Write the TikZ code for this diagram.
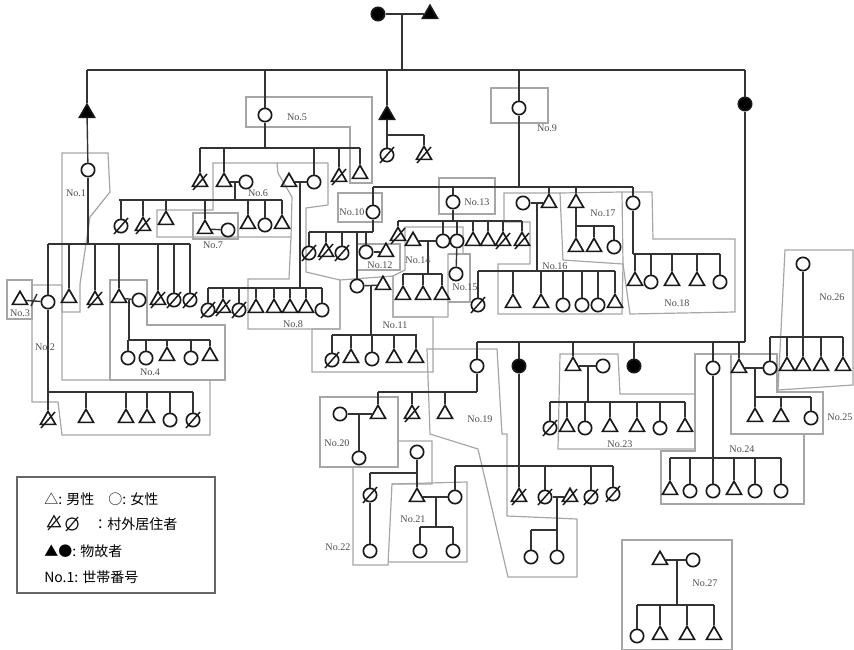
\documentclass[tikz,border=0pt]{standalone}
\usepackage{fontspec}
\setmainfont{Liberation Serif}
\newfontfamily\jp{Noto Sans CJK JP}
\usetikzlibrary{shapes.geometric}
\newcommand\kids[4]{%
  \draw[ln] (#2,#1) -- (#3,#1);
  \foreach \nn in {#4} {\draw[ln] (\nn |- 0,#1) -- (\nn);}}
\begin{document}
\begin{tikzpicture}[x=0.75pt,y=-0.75pt,
  ln/.style={draw=black!80,line width=1.05pt},
  bx/.style={draw=black!35,line width=0.9pt},
  sym/.style={draw=black!90,line width=1.25pt,inner sep=0pt},
  sM/.style={sym,regular polygon,regular polygon sides=3,minimum size=13pt},
  sF/.style={sym,circle,minimum size=10pt},
  sDead/.style={fill=black},
  sOut/.style={append after command={([shift={(-7,8)}]\tikzlastnode.center) edge[draw=black!90,line width=1.1pt] ([shift={(7,-8)}]\tikzlastnode.center)}},
  lab/.style={font=\fontsize{7.6}{8}\selectfont,text=black!70,inner sep=0pt},
  leg/.style={font=\jp\fontsize{10.5}{12}\selectfont,inner sep=0pt,anchor=west},
]
\useasboundingbox (0,0) rectangle (854,650);
% ---------------- household boxes ----------------
\draw[bx] (62,153) -- (108,153) -- (110,192) -- (90,217) -- (80,284) -- (80,312) -- (62,312) -- cycle;
\draw[bx] (32,285) -- (62,285) -- (62,380) -- (210,380) -- (210,435) -- (62,435) -- (58,402) -- (32,402) -- cycle;
\draw[bx] (7,280) rectangle (32,319);
\draw[bx] (110,280) -- (147,280) -- (147,325) -- (225,325) -- (225,380) -- (110,380) -- cycle;
\draw[bx] (246,97) -- (372,97) -- (372,183) -- (350,183) -- (350,127) -- (246,127) -- cycle;
\draw[bx] (213,163) -- (277,163) -- (278,173) -- (292,197) -- (291,237) -- (157,237) -- (157,210) -- (213,210) -- cycle;
\draw[bx] (193,213) rectangle (238,239);
\draw[bx] (277,163) -- (328,163) -- (328,205) -- (306,208) -- (306,272) -- (340,280) -- (340,329) -- (248,329) -- (248,279) -- (289,279) -- (291,237);
\draw[bx] (491,88) rectangle (548,123);
\draw[bx] (338,193) rectangle (382,222);
\draw[bx] (312,329) -- (340,329) -- (340,280) -- (393,276) -- (393,317) -- (433,317) -- (433,372) -- (312,372) -- cycle;
\draw[bx] (357,244) rectangle (400,270);
\draw[bx] (439,178) rectangle (495,214);
\draw[bx] (405,227) -- (463,227) -- (463,254) -- (448,254) -- (448,317) -- (393,317) -- (393,276) -- (405,270) -- cycle;
\draw[bx] (448,254) -- (470,254) -- (470,302) -- (448,302);
\draw[bx] (504,193) -- (560,193) -- (563,260) -- (623,264) -- (622,314) -- (498,314) -- (498,264) -- (530,264) -- (530,222) -- (504,222) -- cycle;
\draw[bx] (560,193) -- (622,192) -- (623,264);
\draw[bx] (622,192) -- (652,192) -- (653,239) -- (735,239) -- (735,312) -- (630,314) -- (623,264);
\draw[bx] (427,349) -- (497,349) -- (502,434) -- (507,434) -- (507,516) -- (577,519) -- (577,577) -- (508,577) -- (478,449) -- (430,434) -- cycle;
\draw[bx] (320,397) rectangle (398,467);
\draw[bx] (392,484) -- (467,482) -- (467,562) -- (388,562);
\draw[bx] (353,467) -- (398,467) -- (398,441) -- (432,441) -- (432,484) -- (392,484) -- (388,565) -- (353,565) -- cycle;
\draw[bx] (560,354) -- (618,354) -- (620,394) -- (695,394) -- (695,449) -- (558,449) -- cycle;
\draw[bx] (695,354) -- (731,354) -- (731,434) -- (804,434) -- (804,504) -- (661,504) -- (661,451) -- (695,451) -- cycle;
\draw[bx] (731,354) -- (777,354) -- (777,392) -- (823,392) -- (823,434) -- (731,434) -- cycle;
\draw[bx] (785,250) -- (853,250) -- (853,385) -- (778,390) -- cycle;
\draw[bx] (622,540) rectangle (732,650);
% ---------------- top ----------------
\node[sF,sDead] (t1) at (378,14) {};
\node[sM,sDead] (t2) at (430,14) {};
\draw[ln] (t1) -- (t2);
\draw[ln] (402,14) -- (402,70);
\draw[ln] (87,70) -- (745,70);
\node[sM,sDead] (a1) at (87,113) {};
\node[sF] (a2) at (88,170) {};
\node[sF] (b1) at (265,115) {};
\node[sM,sDead] (c1) at (387,115) {};
\node[sF,sOut] (c2) at (387,155) {};
\node[sM,sOut] (c3) at (424,155) {};
\node[sF] (d1) at (519,108) {};
\node[sF,sDead] (e1) at (745,104) {};
\foreach \nn in {a1,b1,c1,d1,e1} {\draw[ln] (\nn |- 0,70) -- (\nn);}
\draw[ln] (a1) -- (a2);
\draw[ln] (c1) -- (387,135);
\kids{135}{387}{424}{c2,c3}
% ---------------- No.1 - No.4 ----------------
\node[sF] (f1) at (48,302) {};
\node[sM] (f2) at (69,298) {};
\node[sM,sOut] (f3) at (95,300) {};
\node[sM] (f4) at (119,298) {};
\node[sF] (f5) at (139,300) {};
\node[sM,sOut] (f6) at (158,300) {};
\node[sF,sOut] (f7) at (174,300) {};
\node[sF,sOut] (f8) at (190,300) {};
\node[sM] (g0) at (20,300) {};
\draw[ln] (a2) -- (88,244);
\kids{244}{48}{190}{f1,f2,f3,f4,f6,f7,f8}
\draw[ln] (g0) -- (f1);
\draw[ln] (31,306) -- (37,294);
\draw[ln] (f4) -- (f5);
\node[sF] (h1) at (128,358) {};
\node[sF] (h2) at (146,358) {};
\node[sM] (h3) at (167,356) {};
\node[sF] (h4) at (191,358) {};
\node[sM] (h5) at (210,356) {};
\draw[ln] (129,300) -- (129,340);
\kids{340}{128}{210}{h1,h2,h3,h4,h5}
\node[sM,sOut] (i1) at (48,420) {};
\node[sM] (i2) at (86,418) {};
\node[sM] (i3) at (126,418) {};
\node[sM] (i4) at (147,418) {};
\node[sF] (i5) at (170,420) {};
\node[sF,sOut] (i6) at (193,420) {};
\draw[ln] (f1) -- (48,392);
\kids{392}{48}{193}{i1,i2,i3,i4,i5,i6}
% ---------------- No.5 - No.8 ----------------
\node[sM,sOut] (j1) at (200,182) {};
\node[sM] (j2) at (224,182) {};
\node[sF] (j3) at (246,182) {};
\node[sM] (j4) at (289,182) {};
\node[sF] (j5) at (314,182) {};
\node[sM,sOut] (j6) at (339,177) {};
\node[sM] (j7) at (360,174) {};
\draw[ln] (b1) -- (265,148);
\kids{148}{200}{360}{j1,j2,j5,j6,j7}
\draw[ln] (j2) -- (j3);
\draw[ln] (j4) -- (j5);
\node[sF,sOut] (k1) at (121,226) {};
\node[sM,sOut] (k2) at (143,226) {};
\node[sM] (k3) at (166,220) {};
\node[sM] (k4) at (205,229) {};
\node[sF] (k5) at (228,230) {};
\node[sM] (k6) at (248,224) {};
\node[sF] (k7) at (265,225) {};
\node[sM] (k8) at (282,224) {};
\draw[ln] (235,182) -- (235,200);
\kids{200}{119}{282}{k1,k2,k3,k4,k6,k7,k8}
\draw[ln] (k4) -- (k5);
\node[sF,sOut] (l1) at (208,310) {};
\node[sM,sOut] (l2) at (223,308) {};
\node[sF,sOut] (l3) at (239,310) {};
\node[sM] (l4) at (256,308) {};
\node[sM] (l5) at (274,308) {};
\node[sM] (l6) at (290,308) {};
\node[sM] (l7) at (306,308) {};
\node[sF] (l8) at (322,310) {};
\draw[ln] (300,182) -- (300,288);
\kids{288}{208}{322}{l1,l2,l3,l4,l5,l6,l7,l8}
% ---------------- No.9 - No.18 ----------------
\node[sF] (m1) at (373,212) {};
\node[sF] (o1) at (453,202) {};
\node[sF] (q1) at (523,203) {};
\node[sM] (q2) at (549,203) {};
\node[sM] (s1) at (576,203) {};
\node[sF] (u1) at (633,203) {};
\draw[ln] (d1) -- (519,187);
\kids{187}{373}{633}{m1,o1,q2,s1,u1}
\draw[ln] (q1) -- (q2);
\node[sF,sOut] (m2) at (309,253) {};
\node[sM,sOut] (m3) at (326,252) {};
\node[sF,sOut] (m4) at (342,253) {};
\node[sF] (m5) at (357,286) {};
\node[sF] (m6) at (366,252) {};
\node[sM] (m7) at (386,252) {};
\node[sM] (m8) at (383,285) {};
\draw[ln] (m1) -- (373,232);
\kids{232}{309}{373}{m2,m3,m4,m5,m6}
\draw[ln] (m6) -- (m7);
\draw[ln] (m5) -- (m8);
\node[sF,sOut] (n1) at (332,360) {};
\node[sM] (n2) at (351,358) {};
\node[sF] (n3) at (372,359) {};
\node[sM] (n4) at (394,358) {};
\node[sM] (n5) at (416,358) {};
\draw[ln] (371,286) -- (371,335);
\kids{335}{332}{417}{n1,n2,n3,n4,n5}
\node[sM,sOut] (o2) at (398,236) {};
\node[sM] (o3) at (413,241) {};
\node[sF] (o4) at (443,241) {};
\node[sF] (o5) at (457,241) {};
\node[sM] (o6) at (473,241) {};
\node[sM] (o7) at (488,241) {};
\node[sM,sOut] (o8) at (503,241) {};
\node[sM,sOut] (o9) at (522,241) {};
\node[sF] (o10) at (456,274) {};
\draw[ln] (o1) -- (453,221);
\kids{221}{398}{522}{o2,o4,o5,o6,o7,o8,o9}
\draw[ln] (o3) -- (o4);
\draw[ln] (o5) -- (o10);
\node[sM] (p1) at (403,295) {};
\node[sM] (p2) at (423,295) {};
\node[sM] (p3) at (442,295) {};
\draw[ln] (428,241) -- (428,274);
\kids{274}{403}{442}{p1,p2,p3}
\node[sF,sOut] (r1) at (478,305) {};
\node[sM] (r2) at (513,303) {};
\node[sM] (r3) at (541,303) {};
\node[sF] (r4) at (563,305) {};
\node[sF] (r5) at (582,305) {};
\node[sF] (r6) at (598,305) {};
\node[sM] (r7) at (615,303) {};
\draw[ln] (537,203) -- (537,271);
\kids{271}{478}{615}{r1,r2,r3,r4,r5,r6,r7}
\node[sM] (s2) at (576,247) {};
\node[sM] (s3) at (594,247) {};
\node[sF] (s4) at (614,247) {};
\draw[ln] (s1) -- (576,226);
\kids{226}{576}{614}{s2,s3,s4}
\node[sM] (u2) at (635,281) {};
\node[sF] (u3) at (651,282) {};
\node[sM] (u4) at (672,281) {};
\node[sM] (u5) at (697,281) {};
\node[sF] (u6) at (720,282) {};
\draw[ln] (u1) -- (633,254);
\kids{254}{633}{720}{u2,u3,u4,u5,u6}
% ---------------- lower generation ----------------
\node[sF] (v1) at (477,366) {};
\node[sF,sDead] (v2) at (519,366) {};
\node[sM] (v3) at (573,366) {};
\node[sF] (v4) at (603,366) {};
\node[sF,sDead] (v5) at (634,366) {};
\node[sF] (v6) at (713,368) {};
\node[sM] (v7) at (739,368) {};
\node[sF] (w1) at (770,368) {};
\draw[ln] (e1) -- (745,342);
\kids{342}{477}{745}{v1,v2,v3,v5,v6,v7}
\draw[ln] (v3) -- (v4);
\draw[ln] (v7) -- (w1);
% No.19 - No.22
\node[sF] (x0) at (340,414) {};
\node[sM] (x1) at (378,414) {};
\node[sM,sOut] (x2) at (412,414) {};
\node[sM] (x3) at (445,414) {};
\node[sF] (x4) at (359,458) {};
\node[sF] (x5) at (417,452) {};
\draw[ln] (v1) -- (477,392);
\kids{392}{378}{477}{x1,x2,x3}
\draw[ln] (x0) -- (x1);
\draw[ln] (359,414) -- (x4);
\node[sF,sOut] (y0) at (370,495) {};
\node[sM] (y1) at (417,497) {};
\node[sF] (y2) at (455,497) {};
\node[sF] (y3) at (370,551) {};
\draw[ln] (x5) -- (y1);
\kids{473}{370}{417}{y0}
\draw[ln] (y0) -- (y3);
\draw[ln] (y1) -- (y2);
\node[sF] (z1) at (420,551) {};
\node[sF] (z2) at (453,551) {};
\draw[ln] (436,497) -- (436,527);
\kids{527}{420}{453}{z1,z2}
\node[sM,sOut] (aa1) at (519,497) {};
\node[sF,sOut] (aa2) at (545,497) {};
\node[sM,sOut] (aa3) at (570,497) {};
\node[sF,sOut] (aa4) at (591,497) {};
\node[sF,sOut] (aa5) at (613,494) {};
\draw[ln] (v2) -- (aa1);
\kids{466}{455}{613}{y2,aa2,aa4,aa5}
\draw[ln] (aa2) -- (aa3);
\node[sF] (ab1) at (531,557) {};
\node[sF] (ab2) at (557,557) {};
\draw[ln] (557,497) -- (557,530);
\kids{530}{531}{557}{ab1,ab2}
% No.23
\node[sF,sOut] (ac1) at (550,428) {};
\node[sM] (ac2) at (567,427) {};
\node[sF] (ac3) at (585,428) {};
\node[sM] (ac4) at (610,427) {};
\node[sM] (ac5) at (637,427) {};
\node[sF] (ac6) at (660,428) {};
\node[sM] (ac7) at (685,427) {};
\draw[ln] (588,366) -- (588,402);
\kids{402}{550}{685}{ac1,ac2,ac3,ac4,ac5,ac6,ac7}
% No.24
\node[sM] (ad1) at (670,490) {};
\node[sF] (ad2) at (690,491) {};
\node[sF] (ad3) at (713,491) {};
\node[sM] (ad4) at (734,490) {};
\node[sF] (ad5) at (755,491) {};
\node[sF] (ad6) at (781,491) {};
\draw[ln] (v6) -- (713,458);
\kids{458}{670}{781}{ad1,ad2,ad3,ad4,ad5,ad6}
% No.25
\node[sM] (ae1) at (755,417) {};
\node[sM] (ae2) at (781,417) {};
\node[sF] (ae3) at (811,418) {};
\draw[ln] (755,368) -- (755,397);
\kids{397}{755}{811}{ae1,ae2,ae3}
% No.26
\node[sF] (af1) at (803,264) {};
\node[sM] (af2) at (787,366) {};
\node[sM] (af3) at (803,366) {};
\node[sM] (af4) at (821,366) {};
\node[sM] (af5) at (843,366) {};
\draw[ln] (af1) -- (803,337);
\kids{337}{770}{843}{w1,af2,af3,af4,af5}
% No.27
\node[sM] (ag1) at (660,560) {};
\node[sF] (ag2) at (693,560) {};
\node[sF] (ah1) at (637,636) {};
\node[sM] (ah2) at (660,635) {};
\node[sM] (ah3) at (687,635) {};
\node[sM] (ah4) at (714,635) {};
\draw[ln] (ag1) -- (ag2);
\draw[ln] (677,560) -- (677,605);
\kids{605}{637}{714}{ah1,ah2,ah3,ah4}
% ---------------- labels ----------------
\node[lab] (L1) at (76,193) {No.1};
\node[lab] (L2) at (45,347) {No.2};
\node[lab] (L3) at (20,313) {No.3};
\node[lab] (L4) at (150,372) {No.4};
\node[lab] (L5) at (297,117) {No.5};
\node[lab] (L6) at (258,193) {No.6};
\node[lab] (L7) at (213,245) {No.7};
\node[lab] (L8) at (293,324) {No.8};
\node[lab] (L9) at (547,128) {No.9};
\node[lab] (L10) at (352,212) {No.10};
\node[lab] (L11) at (395,325) {No.11};
\node[lab] (L12) at (380,265) {No.12};
\node[lab] (L13) at (477,202) {No.13};
\node[lab] (L14) at (418,260) {No.14};
\node[lab] (L15) at (465,287) {No.15};
\node[lab] (L16) at (555,266) {No.16};
\node[lab] (L17) at (603,213) {No.17};
\node[lab] (L18) at (677,303) {No.18};
\node[lab] (L19) at (480,419) {No.19};
\node[lab] (L20) at (337,443) {No.20};
\node[lab] (L21) at (413,519) {No.21};
\node[lab] (L22) at (338,547) {No.22};
\node[lab] (L23) at (620,444) {No.23};
\node[lab] (L24) at (742,449) {No.24};
\node[lab] (L25) at (840,417) {No.25};
\node[lab] (L26) at (832,297) {No.26};
\node[lab] (L27) at (705,583) {No.27};
% ---------------- legend ----------------
\draw[draw=black!60,line width=0.9pt] (17,477) rectangle (215,593);
\node[leg] (g1) at (44,499) {△: 男性\hspace{1em}○: 女性};
\node[sym,regular polygon,regular polygon sides=3,minimum size=11pt,line width=0.9pt,
  append after command={([shift={(-6,7)}]\tikzlastnode.center) edge[draw=black!90,line width=0.9pt] ([shift={(6,-7)}]\tikzlastnode.center)}] (g2a) at (54,523) {};
\node[sym,circle,minimum size=9pt,line width=0.9pt,
  append after command={([shift={(-6,7)}]\tikzlastnode.center) edge[draw=black!90,line width=0.9pt] ([shift={(6,-7)}]\tikzlastnode.center)}] (g2b) at (72,524) {};
\node[leg] (g2) at (93,524) {：村外居住者};
\node[leg] (g3) at (44,551) {▲●: 物故者};
\node[leg] (g4) at (44,577) {No.1: 世帯番号};
\end{tikzpicture}
\end{document}
